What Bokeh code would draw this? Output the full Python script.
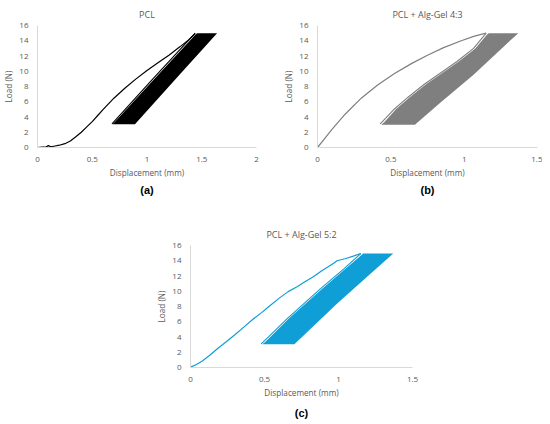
from bokeh.plotting import figure
from bokeh.layouts import column, row
from bokeh.models import Spacer, Title, Range1d, FixedTicker, NumeralTickFormatter
from bokeh.embed import file_html
from bokeh.resources import INLINE

# ---------------- data ----------------
y_ticks = [0, 2, 4, 6, 8, 10, 12, 14, 16]
x_ticks_a = [0, 0.5, 1, 1.5, 2]
x_ticks_bc = [0, 0.5, 1, 1.5]

titles = ["PCL", "PCL + Alg-Gel 4:3", "PCL + Alg-Gel 5:2"]
tags = ["(a)", "(b)", "(c)"]
colors = ["#000000", "#7f7f7f", "#0f9ed5"]

# (a) PCL: initial loading curve
load_a_x = [0, 0.04, 0.08, 0.10, 0.12, 0.16, 0.20, 0.25, 0.30, 0.35, 0.40, 0.45, 0.50,
            0.55, 0.60, 0.70, 0.80, 0.90, 1.00, 1.10, 1.20, 1.30, 1.38, 1.44]
load_a_y = [0, 0.05, 0.08, 0.25, 0.10, 0.20, 0.30, 0.50, 0.85, 1.4, 2.0, 2.7, 3.4,
            4.2, 5.0, 6.5, 7.8, 9.0, 10.1, 11.1, 12.1, 13.2, 14.1, 14.95]
# (a) first unloading path
cyc_a_x = [1.44, 1.06, 0.68]
cyc_a_y = [15.0, 9.1, 3.1]
# (a) envelope of the repeated cycles
band_a_x = [0.685, 0.71, 1.075, 1.448, 1.46, 1.64, 1.27, 0.89]
band_a_y = [3.05, 3.4, 9.1, 14.9, 15.0, 15.0, 9.1, 3.05]

# (b) PCL + Alg-Gel 4:3
load_b_x = [0, 0.05, 0.10, 0.19, 0.30, 0.41, 0.525, 0.64, 0.75, 0.86, 0.98, 1.07, 1.15]
load_b_y = [0, 1.2, 2.4, 4.4, 6.5, 8.2, 9.7, 11.0, 12.1, 13.1, 14.0, 14.6, 15.0]
cyc_b_x = [1.15, 1.064, 0.951, 0.839, 0.726, 0.613, 0.523, 0.428]
cyc_b_y = [15.0, 13.0, 11.28, 9.78, 8.26, 6.53, 5.02, 3.1]
band_b_x = [0.435, 0.455, 0.535, 0.625, 0.738, 0.851, 0.963, 1.076, 1.158, 1.168,
            1.369, 1.245, 1.064, 0.839, 0.664]
band_b_y = [3.0, 3.3, 5.02, 6.53, 8.26, 9.78, 11.28, 13.0, 14.85, 15.0,
            15.0, 12.8, 9.55, 5.9, 3.0]

# (c) PCL + Alg-Gel 5:2
load_c_x = [0, 0.04, 0.08, 0.13, 0.19, 0.25, 0.30, 0.36, 0.42, 0.48, 0.53, 0.60, 0.66,
            0.72, 0.77, 0.83, 0.88, 0.93, 0.97, 0.99, 1.05, 1.10, 1.15]
load_c_y = [0.05, 0.4, 0.86, 1.6, 2.6, 3.5, 4.3, 5.3, 6.3, 7.2, 8.0, 9.1, 9.95,
            10.6, 11.2, 11.9, 12.6, 13.2, 13.7, 14.0, 14.3, 14.6, 14.95]
cyc_c_x = [1.151, 1.038, 0.881, 0.657, 0.478]
cyc_c_y = [14.95, 12.97, 10.37, 6.48, 3.1]
band_c_x = [0.485, 0.505, 0.668, 0.892, 1.049, 1.158, 1.166, 1.37, 1.218, 0.993, 0.702]
band_c_y = [3.05, 3.35, 6.48, 10.37, 12.97, 14.8, 14.95, 14.95, 12.32, 8.43, 3.05]

GRAY = "#595959"
FONT = "Open Sans"


def panel(title, tag, xmax, xticks, color, lx, ly, cx, cy, bx, by,
          fw, mb_left, mb_right, mb_top, mb_bottom, tag_standoff):
    p = figure(frame_width=fw, frame_height=122,
               x_range=Range1d(0, xmax), y_range=Range1d(0, 16),
               output_backend="svg", toolbar_location=None,
               min_border_left=mb_left, min_border_right=mb_right,
               min_border_top=mb_top, min_border_bottom=mb_bottom,
               background_fill_color="white", border_fill_color="white")
    p.outline_line_color = None
    p.xgrid.visible = False
    p.ygrid.visible = False

    p.title.text = title
    p.title.align = "center"
    p.title.vertical_align = "top"
    p.title.text_font = FONT
    p.title.text_font_size = "9px"
    p.title.text_font_style = "normal"
    p.title.text_color = GRAY
    p.title.standoff = 6

    for ax in (p.xaxis[0], p.yaxis[0]):
        ax.axis_line_color = "#d9d9d9"
        ax.axis_line_width = 1
        ax.major_tick_line_color = None
        ax.minor_tick_line_color = None
        ax.major_label_text_font = FONT
        ax.major_label_text_font_size = "8px"
        ax.major_label_text_color = GRAY
        ax.major_label_standoff = 3
        ax.axis_label_text_font = FONT
        ax.axis_label_text_font_size = "8.2px"
        ax.axis_label_text_font_style = "normal"
        ax.axis_label_text_color = GRAY
        ax.axis_label_standoff = 2

    p.xaxis.ticker = FixedTicker(ticks=xticks)
    p.xaxis.formatter = NumeralTickFormatter(format="0.[0]")
    p.xaxis.axis_label = "Displacement (mm)"
    p.yaxis.ticker = FixedTicker(ticks=y_ticks)
    p.yaxis.axis_label = "Load (N)"

    p.add_layout(Title(text=tag, align="center", text_font="Liberation Sans",
                       text_font_style="bold", text_font_size="11px",
                       text_color="#000000", standoff=tag_standoff), "below")

    p.patch(bx, by, fill_color=color, line_color=None)
    p.line(cx, cy, line_color=color, line_width=1.1)
    p.line(lx, ly, line_color=color, line_width=1.2)
    return p


pa = panel(titles[0], tags[0], 2, x_ticks_a, colors[0],
           load_a_x, load_a_y, cyc_a_x, cyc_a_y, band_a_x, band_a_y,
           219, 29, 21, 25, 50, 3)
pb = panel(titles[1], tags[1], 1.5, x_ticks_bc, colors[1],
           load_b_x, load_b_y, cyc_b_x, cyc_b_y, band_b_x, band_b_y,
           220, 40, 5, 25, 50, 3)
pc = panel(titles[2], tags[2], 1.5, x_ticks_bc, colors[2],
           load_c_x, load_c_y, cyc_c_x, cyc_c_y, band_c_x, band_c_y,
           222, 33, 10, 48, 50, 9)

layout = column(row(pa, pb), row(Spacer(width=153, height=10), pc))

open("out.html", "w").write(file_html(layout, INLINE))
